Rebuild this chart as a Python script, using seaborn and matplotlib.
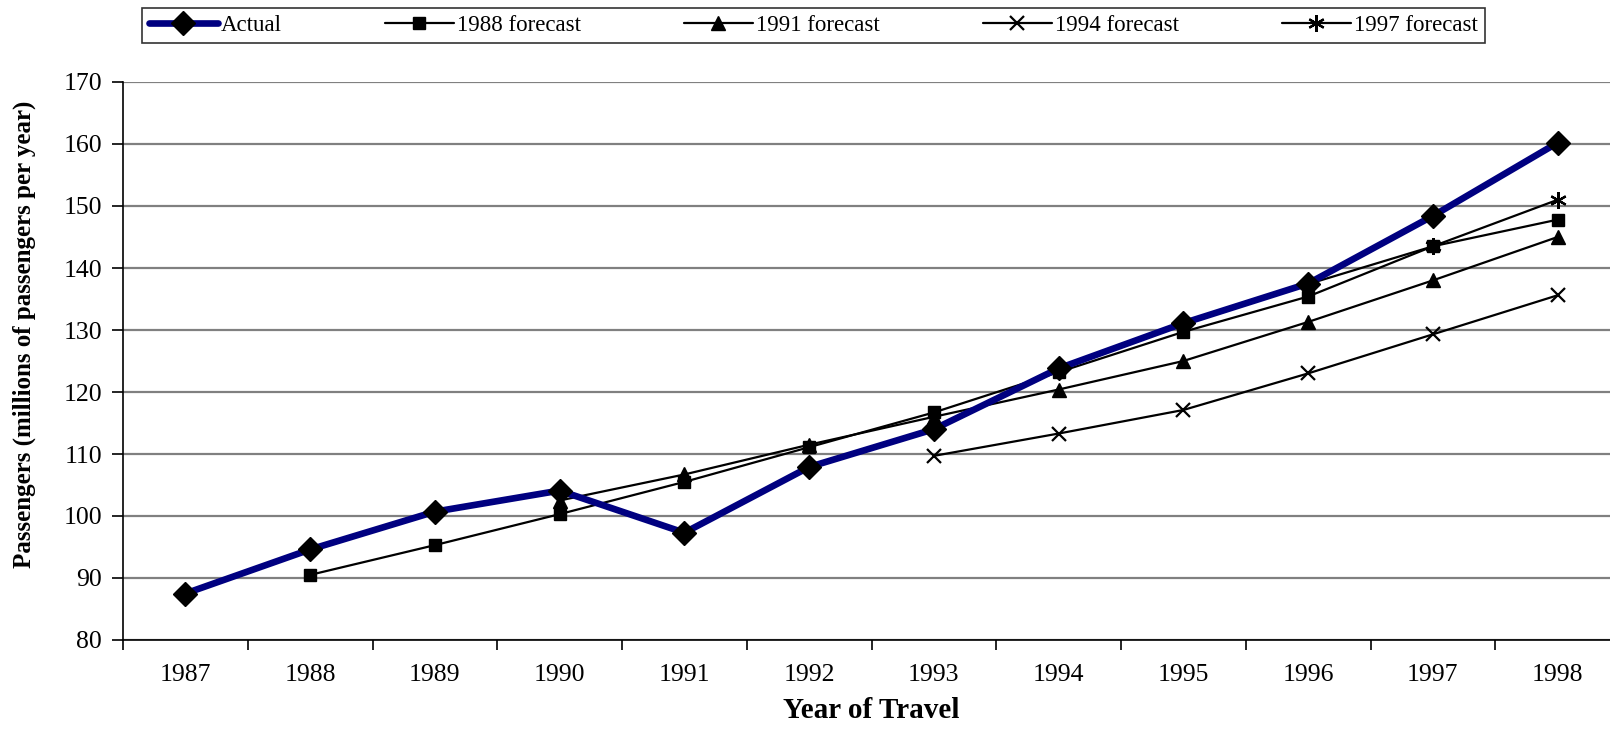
import seaborn as sns
import pandas as pd
import numpy as np
import matplotlib.pyplot as plt

# data
years = [1987, 1988, 1989, 1990, 1991, 1992, 1993, 1994, 1995, 1996, 1997, 1998]
actual = [87.5, 94.6, 100.7, 104.1, 97.3, 107.9, 114.0, 123.8, 131.1, 137.5, 148.4, 160.2]

years_1988 = [1988, 1989, 1990, 1991, 1992, 1993, 1994, 1995, 1996, 1997, 1998]
fc_1988 = [90.5, 95.3, 100.3, 105.5, 111.1, 116.7, 123.2, 129.7, 135.4, 143.5, 147.8]

years_1991 = [1990, 1991, 1992, 1993, 1994, 1995, 1996, 1997, 1998]
fc_1991 = [102.5, 106.7, 111.5, 116.0, 120.4, 125.0, 131.3, 138.0, 145.0]

years_1994 = [1993, 1994, 1995, 1996, 1997, 1998]
fc_1994 = [109.7, 113.3, 117.1, 123.0, 129.3, 135.6]

years_1997 = [1996, 1997, 1998]
fc_1997 = [137.4, 143.5, 151.0]

series_names = ['Actual', '1988 forecast', '1991 forecast', '1994 forecast', '1997 forecast']

frames = [
    pd.DataFrame({'year': years, 'value': actual, 'series': series_names[0]}),
    pd.DataFrame({'year': years_1988, 'value': fc_1988, 'series': series_names[1]}),
    pd.DataFrame({'year': years_1991, 'value': fc_1991, 'series': series_names[2]}),
    pd.DataFrame({'year': years_1994, 'value': fc_1994, 'series': series_names[3]}),
    pd.DataFrame({'year': years_1997, 'value': fc_1997, 'series': series_names[4]}),
]

sns.set_style('white')
plt.rcParams['font.family'] = ['Liberation Serif', 'DejaVu Serif']
plt.rcParams['text.color'] = 'black'
plt.rcParams['axes.labelcolor'] = 'black'
plt.rcParams['xtick.color'] = 'black'
plt.rcParams['ytick.color'] = 'black'

fig = plt.figure(figsize=(16.1, 7.33), dpi=100)
ax = fig.add_axes([123 / 1610, 93 / 733, 1497 / 1610, 558 / 733])

# styles for each series: marker, size, color, line width
styles = [
    dict(marker='D', markersize=12, color='#000080', linewidth=4.8, mfc='black', mec='black'),
    dict(marker='s', markersize=9, color='black', linewidth=1.6, mfc='black', mec='black'),
    dict(marker='^', markersize=10, color='black', linewidth=1.6, mfc='black', mec='black'),
    dict(marker='x', markersize=10, color='black', linewidth=1.6, mfc='black', mec='black', mew=1.6),
    dict(marker=(6, 2, 0), markersize=12, color='black', linewidth=1.6, mfc='black', mec='black', mew=1.6),
]

# draw forecasts first, actual on top
for df, name, st in list(zip(frames, series_names, styles))[1:] + [(frames[0], series_names[0], styles[0])]:
    st = dict(st)
    sns.lineplot(data=df, x='year', y='value', ax=ax, label=name,
                 color=st.pop('color'), linewidth=st.pop('linewidth'),
                 marker=st.pop('marker'), markersize=st.pop('markersize'),
                 markerfacecolor=st.pop('mfc'), markeredgecolor=st.pop('mec'),
                 markeredgewidth=st.pop('mew', 1.0), zorder=3)

ax.set_xlim(1986.5, 1998.5)
ax.set_ylim(80, 170)
ax.set_yticks(np.arange(80, 171, 10))
ax.set_xticks(years)
ax.set_xticks(np.arange(1986.5, 1998.6, 1), minor=True)
ax.tick_params(axis='x', which='major', length=0, pad=17, labelsize=18.5, labelcolor='black')
ax.tick_params(axis='x', which='minor', length=7, width=1.2, direction='out', color='black', bottom=True)
ax.tick_params(axis='y', which='major', length=8, width=1.2, direction='out', color='black',
               left=True, labelsize=18.5, pad=7, labelcolor='black')

ax.yaxis.grid(True, color='#808080', linewidth=1.6)
ax.xaxis.grid(False)
ax.set_axisbelow(True)

for side in ['top', 'right']:
    ax.spines[side].set_visible(False)
for side in ['left', 'bottom']:
    ax.spines[side].set_color('black')
    ax.spines[side].set_linewidth(1.2)

ax.set_xlabel('Year of Travel', fontsize=21, fontweight='bold', labelpad=8, color='black')
ax.set_ylabel('Passengers (millions of passengers per year)', fontsize=18, fontweight='bold', color='black')
ax.yaxis.set_label_coords(-0.058, 0.547)

# legend across the top, in original series order
handles, labels = ax.get_legend_handles_labels()
order = [labels.index(n) for n in series_names]
ax.get_legend().remove()
leg = fig.legend([handles[i] for i in order], [labels[i] for i in order],
                 loc='lower left', bbox_to_anchor=(142 / 1610, 1 - 43 / 733, 1343 / 1610, 36 / 733),
                 mode='expand', ncol=5, fontsize=16.5, frameon=True, fancybox=False,
                 handlelength=3.0, handletextpad=0.15, borderaxespad=0, borderpad=0.3)
leg.get_frame().set_edgecolor('black')
leg.get_frame().set_linewidth(1.2)
for t in leg.get_texts():
    t.set_color('black')

fig.savefig('out.png', dpi=100)
